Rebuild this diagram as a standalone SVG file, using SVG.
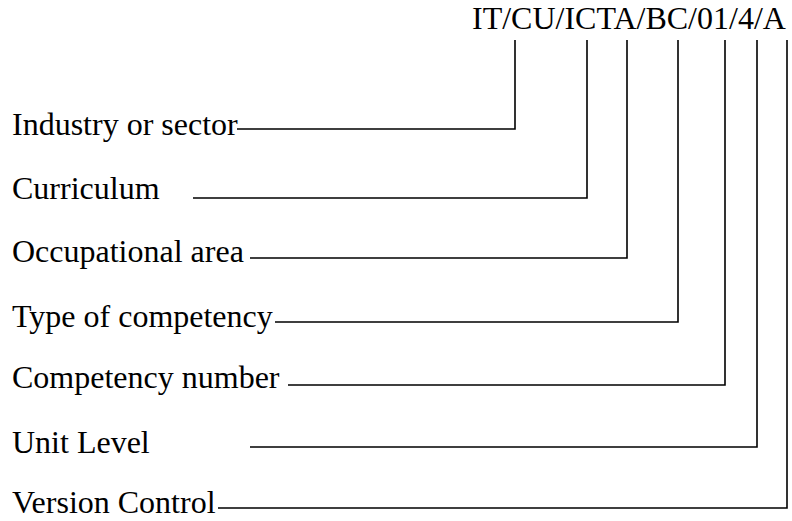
<svg xmlns="http://www.w3.org/2000/svg" width="792" height="521" viewBox="0 0 792 521">
<style>
text{font-family:"Liberation Serif","Times New Roman",serif;font-size:32px;fill:#000}
.c{fill:none;stroke:#000;stroke-width:1.6}
</style>
<rect width="792" height="521" fill="#fff"/>
<g id="code"><text x="472" y="29">IT/CU/ICTA/BC/01/4/A</text></g>
<g id="n1"><text x="12" y="135">Industry or sector</text></g>
<g id="n2"><text x="12" y="199">Curriculum</text></g>
<g id="n3"><text x="12" y="262">Occupational area</text></g>
<g id="n4"><text x="12" y="327">Type of competency</text></g>
<g id="n5"><text x="12" y="388">Competency number</text></g>
<g id="n6"><text x="12" y="453">Unit Level</text></g>
<g id="n7"><text x="12" y="513">Version Control</text></g>
<g id="connectors">
<polyline class="c" points="237,129 515,129 515,40"/>
<polyline class="c" points="193,198 587,198 587,40"/>
<polyline class="c" points="250,258 627,258 627,40"/>
<polyline class="c" points="275,322 678,322 678,40"/>
<polyline class="c" points="288,385 725,385 725,40"/>
<polyline class="c" points="250,447 757,447 757,40"/>
<polyline class="c" points="218,508 787,508 787,40"/>
</g>
</svg>
